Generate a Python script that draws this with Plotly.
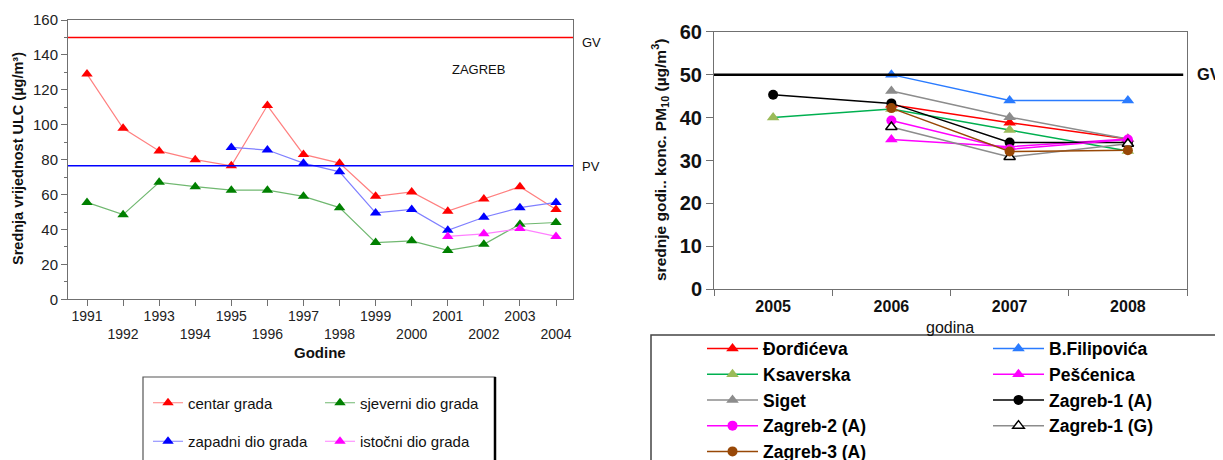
import plotly.graph_objects as go

# The page body has an 8px default margin, so the figure is sized to fit the window
OFF = 8
W, H = 1223 - OFF, 460 - OFF
FONT = "Liberation Sans, Arial, Helvetica, sans-serif"

# ---------------- Left chart data (ULC, Zagreb) ----------------
years_left = list(range(1991, 2005))
centar_grada = [129, 98, 85, 80, 76.5, 111, 83, 78, 59, 61.5, 50.5, 57.5, 64.5, 51.5]
sjeverni_dio = [55.5, 48.5, 67, 64.5, 62.5, 62.5, 59, 52.5, 32.5, 33.5, 28, 31.5, 43, 44]
years_zapadni = list(range(1995, 2005))
zapadni_dio = [87, 85.5, 78, 73, 49.5, 51.5, 39.5, 47, 52.5, 55.5]
years_istocni = [2001, 2002, 2003, 2004]
istocni_dio = [36, 37.5, 40.5, 36]
GV_ULC = 150
PV_ULC = 76.5
left_tick_text = [str(y) if y % 2 else " <br>" + str(y) for y in years_left]

# ---------------- Right chart data (PM10) ----------------
years_right = [2005, 2006, 2007, 2008]
dordiceva = [None, 43, 38.8, 35]
b_filipovica = [None, 50, 44, 44]
ksaverska = [40, 42, 37.1, 32.2]
pescenica = [None, 34.9, 33.2, 35]
siget = [None, 46.2, 40.1, 35]
zagreb1_a = [45.3, 43.3, 34.2, 34.2]
zagreb2_a = [None, 39.3, 32.6, 34.9]
zagreb1_g = [None, 37.8, 30.8, 33.9]
zagreb3_a = [None, 42.2, 32.1, 32.4]
GV_PM10 = 50

fig = go.Figure()

# left traces
left_series = [
    ("centar grada", years_left, centar_grada, "#FF0000", "#FF8080", "legend"),
    ("sjeverni dio grada", years_left, sjeverni_dio, "#008000", "#70B870", "legend2"),
    ("zapadni dio grada", years_zapadni, zapadni_dio, "#0000FF", "#8080FF", "legend"),
    ("istočni dio grada", years_istocni, istocni_dio, "#FF00FF", "#FF80FF", "legend2"),
]
for name, xs, ys, mc, lc, lg in left_series:
    fig.add_trace(go.Scatter(
        x=xs, y=ys, name=name, mode="lines+markers", xaxis="x", yaxis="y",
        line=dict(color=lc, width=1.2),
        marker=dict(symbol="triangle-up", size=10, color=mc),
        legend=lg, legendgroup=name,
    ))

# right traces
right_series = [
    ("Đorđićeva", dordiceva, "#FF0000", "#FF0000", "triangle-up", 11, "legend3"),
    ("B.Filipovića", b_filipovica, "#2A7BFF", "#2A7BFF", "triangle-up", 11, "legend4"),
    ("Ksaverska", ksaverska, "#00B050", "#9BBB59", "triangle-up", 11, "legend3"),
    ("Pešćenica", pescenica, "#FF00FF", "#FF00FF", "triangle-up", 11, "legend4"),
    ("Siget", siget, "#8C8C8C", "#8C8C8C", "triangle-up", 11, "legend3"),
    ("Zagreb-1 (A)", zagreb1_a, "#000000", "#000000", "circle", 10, "legend4"),
    ("Zagreb-2 (A)", zagreb2_a, "#FF00FF", "#FF00FF", "circle", 10, "legend3"),
    ("Zagreb-1 (G)", zagreb1_g, "#8C8C8C", "#FFFFFF", "triangle-up", 10, "legend4"),
    ("Zagreb-3 (A)", zagreb3_a, "#984807", "#984807", "circle", 10, "legend3"),
]
for name, ys, lc, mc, sym, sz, lg in right_series:
    mline = dict(color="#000000", width=1.5) if mc == "#FFFFFF" else dict(width=0)
    fig.add_trace(go.Scatter(
        x=years_right, y=ys, name=name, mode="lines+markers", xaxis="x2", yaxis="y2",
        connectgaps=False,
        line=dict(color=lc, width=1.5),
        marker=dict(symbol=sym, size=sz, color=mc, line=mline),
        legend=lg,
    ))

def px(x):
    return (x - OFF) / W

def py(y):
    return 1 - (y - OFF) / H

axis_line = "#707070"

fig.update_layout(
    width=W, height=H,
    margin=dict(l=0, r=0, t=0, b=0, autoexpand=False),
    paper_bgcolor="white", plot_bgcolor="white",
    font=dict(family=FONT, color="#111111"),
    showlegend=True,
    xaxis=dict(
        domain=[px(68), px(573)], range=[1990.473, 2004.471],
        tickvals=years_left, ticktext=left_tick_text,
        ticks="outside", ticklen=6, tickcolor=axis_line, tickangle=0,
        ticklabelstandoff=-2,
        showline=True, mirror=True, linecolor=axis_line, linewidth=1,
        showgrid=False, zeroline=False,
        tickfont=dict(family=FONT, size=14, color="#222222"),
    ),
    yaxis=dict(
        domain=[py(299.3), py(20)], range=[0, 160],
        tickvals=[0, 20, 40, 60, 80, 100, 120, 140, 160],
        ticks="outside", ticklen=6, tickcolor=axis_line,
        minor=dict(tick0=0, dtick=10, ticks="outside", ticklen=3, tickcolor=axis_line),
        showline=True, mirror=True, linecolor=axis_line, linewidth=1,
        showgrid=False, zeroline=False,
        tickfont=dict(family=FONT, size=15, color="#222222"),
    ),
    xaxis2=dict(
        domain=[px(714), px(1187)], range=[2004.5, 2008.5], anchor="y2",
        tickvals=years_right, ticktext=[str(y) for y in years_right], ticks="",
        minor=dict(tick0=2004.5, dtick=1, ticks="outside", ticklen=6, tickcolor=axis_line),
        ticklabelstandoff=2,
        showline=True, mirror=True, linecolor=axis_line, linewidth=1,
        showgrid=False, zeroline=False,
        tickfont=dict(family=FONT, size=16, color="#111111", weight="bold"),
    ),
    yaxis2=dict(
        domain=[py(289.3), py(31.7)], range=[0, 60], anchor="x2",
        tickvals=[0, 10, 20, 30, 40, 50, 60],
        ticks="outside", ticklen=7, tickcolor=axis_line,
        showline=True, mirror=True, linecolor=axis_line, linewidth=1,
        showgrid=False, zeroline=False,
        tickfont=dict(family=FONT, size=20, color="#111111", weight="bold"),
    ),
)

legend_common = dict(
    bgcolor="rgba(0,0,0,0)", borderwidth=0, orientation="v",
    xanchor="left", yanchor="top",
)
fig.update_layout(
    legend=dict(**legend_common, x=px(148), y=py(386.5), itemwidth=30,
                traceorder="grouped", tracegroupgap=16,
                font=dict(family=FONT, size=15, color="#111111")),
    legend2=dict(**legend_common, x=px(320), y=py(386.5), itemwidth=30,
                 traceorder="grouped", tracegroupgap=16,
                 font=dict(family=FONT, size=15, color="#111111")),
    legend3=dict(**legend_common, x=px(702), y=py(330.5), itemwidth=51,
                 font=dict(family=FONT, size=17.5, color="#000000", weight="bold")),
    legend4=dict(**legend_common, x=px(988), y=py(330.5), itemwidth=51,
                 font=dict(family=FONT, size=17.5, color="#000000", weight="bold")),
)

shapes = [
    dict(type="line", xref="x domain", yref="y", x0=0, x1=1, y0=GV_ULC, y1=GV_ULC,
         line=dict(color="#FF0000", width=1.5)),
    dict(type="line", xref="x domain", yref="y", x0=0, x1=1, y0=PV_ULC, y1=PV_ULC,
         line=dict(color="#0000FF", width=1.5)),
    dict(type="line", xref="x2 domain", yref="y2", x0=0, x1=0.992, y0=GV_PM10, y1=GV_PM10,
         line=dict(color="#000000", width=2.5)),
    # legend frames
    dict(type="rect", xref="paper", yref="paper", x0=px(143), x1=px(495), y0=py(377), y1=py(475),
         line=dict(color="#555555", width=1.2), layer="below"),
    dict(type="line", xref="paper", yref="paper", x0=px(495), x1=px(495), y0=py(377), y1=py(475),
         line=dict(color="#000000", width=2.5)),
    dict(type="rect", xref="paper", yref="paper", x0=px(651), x1=px(1218), y0=py(335), y1=py(475),
         line=dict(color="#444444", width=1.5), layer="below"),
]
fig.update_layout(shapes=shapes)

def ann(text, x, y, size, bold=False, angle=0, xanchor="center", color="#111111"):
    return dict(text=text, x=px(x), y=py(y), xref="paper", yref="paper",
                showarrow=False, textangle=angle, xanchor=xanchor, yanchor="middle",
                font=dict(family=FONT, size=size, color=color, weight="bold" if bold else "normal"))

fig.update_layout(annotations=[
    ann("Srednja vrijednost ULC (µg/m³)", 18, 159, 14.5, bold=True, angle=-90),
    ann("Godine", 320, 352, 15, bold=True),
    ann("ZAGREB", 478, 69, 13),
    ann("GV", 580, 42, 13, xanchor="left"),
    ann("PV", 580, 166, 13, xanchor="left"),
    ann("srednje godi.. konc. PM<sub>10</sub> (µg/m<sup>3</sup>)", 660, 160, 15.5, bold=True, angle=-90),
    ann("godina", 950, 327, 16),
    ann("GV", 1195, 74, 16.5, bold=True, xanchor="left"),
])

fig.write_html("out.html")
